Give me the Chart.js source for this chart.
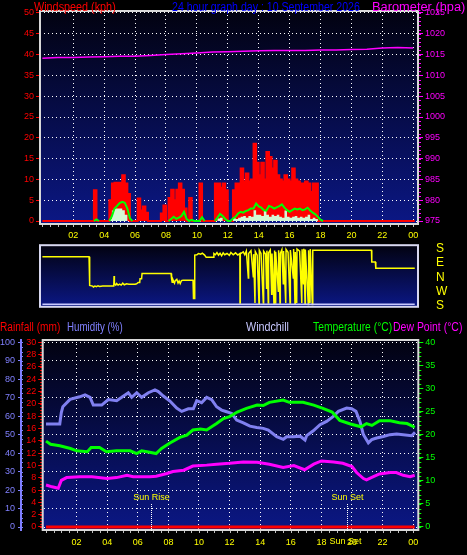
<!DOCTYPE html>
<html>
<head>
<meta charset="utf-8">
<script src="https://cdn.jsdelivr.net/npm/chart.js@4.4.1/dist/chart.umd.min.js"></script>
<style>
  html, body { margin: 0; padding: 0; background: #000; }
  #wrap { position: relative; width: 467px; height: 555px; overflow: hidden; background: #000; }
  canvas { position: absolute; left: 0; }
  .ttl { position: absolute; font: 12px 'Liberation Sans', sans-serif; line-height: 12px; white-space: nowrap; transform-origin: 0 0; }
</style>
</head>
<body>
<div id="wrap">
  <canvas id="wind" width="467" height="242" style="top:0"></canvas>
  <canvas id="dir" width="467" height="80" style="top:236px"></canvas>
  <canvas id="weather" width="467" height="225" style="top:330px"></canvas>

  <span class="ttl" data-w="82" style="left:34px;top:1px;color:#ff0000">Windspeed (kph)</span>
  <span class="ttl" data-w="188" style="left:172px;top:1px;color:#0000ff">24 hour graph day : 10 September 2026</span>
  <span class="ttl" data-w="93" style="left:372px;top:1px;color:#ff00ff">Barometer (hpa)</span>

  <span class="ttl" data-w="60" style="left:0;top:321px;color:#ff0000">Rainfall (mm)</span>
  <span class="ttl" data-w="56" style="left:67px;top:321px;color:#8080ff">Humidity (%)</span>
  <span class="ttl" data-w="43" style="left:246px;top:321px;color:#c8c8ff">Windchill</span>
  <span class="ttl" data-w="79" style="left:313px;top:321px;color:#00ff00">Temperature (°C)</span>
  <span class="ttl" data-w="69" style="left:393px;top:321px;color:#ff00ff">Dew Point (°C)</span>
</div>
<script>
// hour ticks on the time axes (24 = midnight)
const hourTicks = [2, 4, 6, 8, 10, 12, 14, 16, 18, 20, 22, 24];
const lastReading = 24.1;
const sunRise = 6.87;
const sunSet = 19.7;

// wind, 10 minute slots, one row per hour
const gustKph = [
  [0, 0, 0, 0, 0, 0],
  [0, 0, 0, 0, 0, 0],
  [0, 0, 0, 0, 0, 0],
  [0, 0, 0, 7.4, 0, 0],
  [0, 0, 0, 5, 9, 9.2],
  [9.2, 9.2, 11, 9, 6.5, 0],
  [0, 0, 5.4, 2.5, 3.5, 2],
  [0, 0, 0, 0, 0, 1.8],
  [3.7, 0, 5.5, 7.5, 5, 7.5],
  [9, 7.5, 3, 0, 5.5, 0],
  [0, 0, 9, 0, 0, 0],
  [0, 0, 9, 9, 8, 9],
  [7.4, 0, 0, 7.4, 9, 9],
  [12.6, 9.5, 11.4, 9.5, 10, 18.6],
  [14, 11, 14, 10, 16.6, 15.4],
  [12.6, 14.5, 11, 10, 9.5, 11],
  [10, 9.5, 12.6, 10, 9.5, 9],
  [9, 9.5, 9, 7, 9, 9],
  [0, 0, 0, 0, 0, 0],
  [0, 0, 0, 0, 0, 0],
  [0, 0, 0, 0, 0, 0],
  [0, 0, 0, 0, 0, 0],
  [0, 0, 0, 0, 0, 0],
  [0, 0, 0, 0, 0, 0]
];
const speedKph = [
  [0, 0, 0, 0, 0, 0],
  [0, 0, 0, 0, 0, 0],
  [0, 0, 0, 0, 0, 0],
  [0, 0, 0, 0, 0, 0],
  [0, 0, 0, 0.5, 2.5, 3],
  [3, 3, 2.6, 1.5, 0, 0],
  [0, 0, 0, 0, 0, 0],
  [0, 0, 0, 0, 0, 0],
  [0, 0, 0, 0, 0, 0],
  [0, 0, 0, 0, 0, 0],
  [0, 0, 0, 0, 0, 0],
  [0, 0, 0, 0.6, 0.8, 0],
  [0, 0, 0, 0.8, 0.5, 0.8],
  [1, 1.2, 0.8, 1.2, 1, 2.6],
  [1.5, 1.5, 1.2, 2.6, 1.5, 1],
  [1.5, 1.2, 1.5, 1, 0.8, 2.5],
  [1, 0.8, 1, 1.2, 0.8, 1],
  [0.8, 1, 1.5, 0.5, 0.8, 0.5],
  [0, 0, 0, 0, 0, 0],
  [0, 0, 0, 0, 0, 0],
  [0, 0, 0, 0, 0, 0],
  [0, 0, 0, 0, 0, 0],
  [0, 0, 0, 0, 0, 0],
  [0, 0, 0, 0, 0, 0]
];
const avgKph = [
  [null, null, null, null, null, null],
  [null, null, null, null, null, null],
  [null, null, null, null, null, null],
  [null, null, 0, 0.4, 0, null],
  [null, null, 0, 1.2, 3, 3.6],
  [4.3, 4.6, 4.4, 3, 0.6, 0],
  [null, null, null, null, null, null],
  [null, null, null, null, null, null],
  [null, 0, 0.5, 1, 0.5, 0.8],
  [1.2, 2.2, 0.5, 0, 0.3, 0],
  [0, 0, 0.9, 0, null, null],
  [null, 0, 0.8, 1.7, 1.2, 0.5],
  [0, 0, 0.6, 1, 1.8, 2.2],
  [2, 2.4, 2.6, 3, 3, 4.2],
  [3.5, 3.2, 2.6, 2.5, 3.6, 3.4],
  [3, 3.3, 3.6, 4, 3.2, 2.6],
  [2.2, 2.6, 3, 2.8, 3, 2.6],
  [2.8, 3.2, 2.5, 2, 1.6, 1],
  [0.3, 0, null, null, null, null],
  [null, null, null, null, null, null],
  [null, null, null, null, null, null],
  [null, null, null, null, null, null],
  [null, null, null, null, null, null],
  [null, null, null, null, null, null]
];

// barometer, one reading per hour 00..24
const baroHpa = [1014.1, 1014.3, 1014.3, 1014.4, 1014.5, 1014.6, 1014.6, 1014.8, 1015.0, 1015.2,
  1015.4, 1015.6, 1015.7, 1015.8, 1015.9, 1016.0, 1016.0, 1016.0, 1016.1, 1016.1,
  1016.2, 1016.3, 1016.6, 1016.7, 1016.6];

// wind direction [hour, compass degrees]
const dirReadings = [
  [0, 129], [3.02, 129], [3.04, 33], [3.08, 310], [3.25, 306], [3.3, 300], [3.4, 306], [3.5, 302],
  [3.6, 308], [3.7, 304], [3.9, 306], [4.3, 306], [4.62, 306], [4.64, 9], [4.66, 320], [4.75, 312],
  [4.8, 322], [4.9, 312], [5.0, 318], [5.1, 312], [5.2, 324], [5.3, 314], [5.45, 320], [5.6, 318],
  [6.0, 318], [6.1, 320], [6.2, 328], [6.3, 328], [6.32, 352], [6.42, 352], [6.45, 24], [8.33, 24],
  [8.36, 352], [8.4, 330], [8.45, 346], [8.55, 324], [8.6, 340], [8.7, 348], [8.78, 325], [8.85, 338],
  [8.92, 322], [9.0, 340], [9.1, 342], [9.75, 342], [9.78, 228], [9.84, 228], [9.86, 140], [10.0, 142],
  [10.1, 150], [10.25, 146], [10.35, 152], [10.5, 140], [10.6, 126], [11.05, 126], [11.1, 150],
  [11.2, 142], [11.3, 156], [11.4, 140], [11.5, 152], [11.6, 136], [11.7, 154], [11.8, 142],
  [11.95, 150], [12.1, 138], [12.2, 156], [12.35, 142], [12.5, 154], [12.65, 140], [12.78, 150],
  [12.79, 200], [12.81, 148], [13.0, 160], [13.1, 142], [13.2, 166], [13.33, 356], [13.35, 150],
  [13.5, 168], [13.65, 5], [13.67, 146], [13.76, 200], [13.78, 162], [13.9, 140], [14.02, 195],
  [14.04, 170], [14.15, 150], [14.3, 200], [14.32, 164], [14.45, 145], [14.51, 292], [14.53, 168],
  [14.62, 200], [14.64, 155], [14.75, 172], [14.84, 255], [14.86, 150], [14.99, 191], [15.03, 168],
  [15.07, 200], [15.1, 160], [15.27, 274], [15.29, 170], [15.38, 200], [15.4, 150], [15.5, 174],
  [15.59, 320], [15.61, 165], [15.75, 200], [15.77, 176], [15.9, 158], [16.03, 200], [16.05, 172],
  [16.24, 356], [16.26, 178], [16.35, 195], [16.37, 160], [16.46, 200], [16.48, 178], [16.65, 165],
  [16.79, 200], [16.81, 176], [16.9, 320], [16.92, 180], [17.0, 195], [17.02, 175], [17.21, 191],
  [17.23, 170], [17.32, 200], [17.34, 178], [17.47, 191], [17.5, 171], [21.3, 171], [21.32, 97],
  [21.55, 97], [21.58, 57], [24.1, 57]
];
const dirLetters = { 180: 'S', 90: 'E', 0: 'N', '-90': 'W', '-180': 'S' };

// [hour, value]
const humidity = [
  [0, 55.8], [0.9, 55.8], [1.0, 62], [1.1, 65.1], [1.57, 69.1], [2.2, 70.5], [2.55, 71.5], [2.88, 70.2],
  [3.09, 66], [3.64, 66], [4.07, 69], [4.62, 68.4], [4.95, 70.2], [5.38, 72.7], [5.6, 70.2], [5.93, 72.7],
  [6.25, 70.2], [6.69, 72.7], [7.12, 74.2], [7.34, 73.3], [7.67, 70.9], [8.1, 68.2], [8.54, 64.4],
  [8.87, 62.6], [9.3, 64], [9.63, 64], [9.85, 68.4], [10.17, 67.3], [10.5, 70.2], [10.83, 68.9],
  [11.15, 65.1], [11.48, 63.3], [11.81, 62.4], [12.14, 61.5], [12.46, 57.9], [12.9, 56.4], [13.33, 54.6],
  [13.77, 53.9], [14.2, 53.4], [14.53, 52.5], [15.08, 48.9], [15.51, 47.5], [15.73, 48.9], [16.17, 48.9],
  [16.6, 49.2], [16.93, 47.1], [17.04, 49.5], [17.47, 52.1], [17.91, 55.4], [18.34, 57.2], [18.78, 59.9],
  [19.11, 62.6], [19.65, 64.4], [19.98, 64], [20.26, 62.6], [20.52, 57.2], [20.74, 50.1], [21.07, 45.6],
  [21.29, 47.3], [21.61, 48.2], [22.05, 49], [22.48, 50], [22.92, 50.4], [23.9, 49.4], [24.12, 51.2]
];
const temperature = [
  [0, 18.6], [0.3, 17.9], [0.9, 17.6], [1.6, 17.0], [2.0, 16.5], [2.7, 16.3], [2.95, 17.2], [3.5, 17.2],
  [3.95, 16.3], [4.6, 16.5], [5.5, 16.5], [5.93, 15.9], [6.25, 16.5], [6.6, 16.3], [7.2, 15.9],
  [7.55, 17.0], [8.1, 18.2], [8.75, 19.4], [9.2, 19.9], [9.6, 21.0], [10.1, 21.2], [10.5, 21.0],
  [11.15, 22.4], [11.6, 23.5], [12.0, 23.9], [12.5, 24.9], [13.1, 25.7], [13.8, 26.4], [14.2, 26.3],
  [14.6, 27.0], [15.5, 27.5], [15.9, 27.0], [16.8, 27.0], [17.5, 26.4], [18.1, 25.7], [18.7, 24.9],
  [19.2, 23.1], [19.9, 22.3], [20.6, 21.7], [20.95, 22.4], [21.3, 22.0], [21.8, 23.0], [22.5, 23.0],
  [23.1, 22.6], [23.6, 22.4], [24.1, 21.6]
];
const dewPoint = [
  [0, 9.1], [0.4, 8.7], [0.8, 8.4], [1.0, 10.1], [1.35, 10.7], [2.2, 10.9], [3.0, 10.9], [4.0, 10.5],
  [4.6, 10.7], [5.3, 11.2], [5.7, 10.9], [6.8, 10.9], [7.2, 11.0], [7.9, 11.6], [8.3, 12.0], [9.0, 12.3],
  [9.6, 13.2], [10.5, 13.4], [11.15, 13.6], [12.0, 13.8], [12.9, 14.1], [13.8, 14.0], [14.6, 13.6],
  [15.5, 12.9], [16.2, 13.3], [16.9, 12.4], [17.5, 13.6], [18.0, 14.3], [18.8, 14.1], [19.4, 13.8],
  [20.0, 13.1], [20.3, 11.8], [20.75, 10.5], [20.95, 10.2], [21.4, 10.9], [21.8, 11.5], [22.5, 11.8],
  [22.9, 11.8], [23.35, 11.2], [23.8, 10.9], [24.1, 11.2]
];
const rainfall = [[0, 0], [24.1, 0]];

// ---- helpers
Chart.defaults.font.family = "'Liberation Sans', sans-serif";
Chart.defaults.animation = false;
Chart.defaults.events = [];
Chart.defaults.plugins.legend.display = false;
Chart.defaults.plugins.tooltip.enabled = false;

const slots = rows => rows.flat().map((v, i) => ({ x: i / 6, y: v }));
const pairs = list => list.map(p => ({ x: p[0], y: p[1] }));
const fixed = list => s => { s.ticks = list.map(v => ({ value: v })); };
const hh = v => String(v % 24).padStart(2, '0');
const plain = v => String(v);

function fillBack(chart) {
  const a = chart.chartArea, c = chart.ctx;
  const g = c.createLinearGradient(0, a.top, 0, a.bottom);
  g.addColorStop(0, '#020210');
  g.addColorStop(1, '#0b1785');
  c.save();
  c.fillStyle = g;
  c.fillRect(a.left, a.top, a.right - a.left, a.bottom - a.top);
  c.restore();
}

function drawBox(chart, color) {
  const a = chart.chartArea, c = chart.ctx;
  c.save();
  c.strokeStyle = color;
  c.lineWidth = 2;
  c.strokeRect(a.left, a.top, a.right - a.left, a.bottom - a.top);
  c.restore();
}

function minorTicks(chart, id, step, from, len, color) {
  const s = chart.scales[id], c = chart.ctx;
  const n0 = Math.ceil(s.min / step), n1 = Math.floor(s.max / step);
  c.save();
  c.strokeStyle = color;
  c.lineWidth = 1;
  c.beginPath();
  for (let n = n0; n <= n1; n++) {
    const p = Math.round(s.getPixelForValue(n * step)) + 0.5;
    if (s.isHorizontal()) { c.moveTo(p, from); c.lineTo(p, from + len); }
    else { c.moveTo(from, p); c.lineTo(from + len, p); }
  }
  c.stroke();
  c.restore();
}

// ---- windspeed / barometer
new Chart(document.getElementById('wind'), {
  type: 'line',
  data: {
    datasets: [{
      data: baroHpa.map((v, i) => ({ x: i, y: v })),
      yAxisID: 'yb',
      borderColor: '#ff00ff',
      borderWidth: 1.5,
      pointRadius: 0
    }, {
      data: slots(avgKph),
      yAxisID: 'y',
      borderColor: '#00ff00',
      borderWidth: 2,
      pointRadius: 0,
      spanGaps: false
    }, {
      data: slots(speedKph),
      yAxisID: 'y',
      stepped: 'after',
      fill: 'origin',
      backgroundColor: '#d4f8d4',
      borderColor: 'rgba(0,0,0,0)',
      borderWidth: 1,
      pointRadius: 0
    }, {
      data: slots(gustKph).concat([{ x: lastReading, y: 0 }]),
      yAxisID: 'y',
      stepped: 'after',
      fill: 'origin',
      backgroundColor: '#ff0000',
      borderColor: '#ff0000',
      borderWidth: 2,
      pointRadius: 0
    }]
  },
  options: {
    responsive: false,
    layout: { padding: { top: 11 } },
    scales: {
      x: {
        type: 'linear', min: -0.155, max: 24.311,
        afterBuildTicks: fixed(hourTicks),
        afterFit: s => { s.height = 18; },
        ticks: { color: '#ffff00', font: { size: 9 }, padding: 6, callback: hh, maxRotation: 0, autoSkip: false },
        grid: { color: '#ffffff', drawTicks: false },
        border: { display: false, dash: [1, 3] }
      },
      y: {
        position: 'left', min: -0.72, max: 50.48,
        afterBuildTicks: fixed([0, 5, 10, 15, 20, 25, 30, 35, 40, 45, 50]),
        afterFit: s => { s.width = 40; },
        ticks: { color: '#ff0000', font: { size: 9 }, padding: 2, autoSkip: false, callback: plain },
        grid: { color: '#ffffff', tickColor: '#ff0000', tickLength: 4 },
        border: { display: false, dash: [1, 3] }
      },
      yb: {
        position: 'right', min: 974.28, max: 1025.48,
        afterBuildTicks: fixed([975, 980, 985, 990, 995, 1000, 1005, 1010, 1015, 1020, 1025]),
        afterFit: s => { s.width = 49; },
        ticks: { color: '#ff00ff', font: { size: 9 }, padding: 2, autoSkip: false, callback: plain },
        grid: { drawOnChartArea: false, tickColor: '#ff00ff', tickLength: 5 },
        border: { display: false }
      }
    }
  },
  plugins: [{
    id: 'windDeco',
    beforeDraw: fillBack,
    afterDraw(chart) {
      const a = chart.chartArea;
      minorTicks(chart, 'yb', 1, a.right, 3, '#ff00ff');
      minorTicks(chart, 'x', 0.5, a.bottom, 3, '#c0c0c0');
      drawBox(chart, '#d8d8d8');
    }
  }]
});

// ---- wind direction
new Chart(document.getElementById('dir'), {
  type: 'line',
  data: {
    datasets: [{
      data: dirReadings.map(p => ({ x: p[0], y: p[1] > 180 ? p[1] - 360 : p[1] })),
      borderColor: '#ffff00',
      borderWidth: 1.5,
      pointRadius: 0
    }]
  },
  options: {
    responsive: false,
    layout: { padding: { top: 5, bottom: 5, left: 40 } },
    scales: {
      x: { type: 'linear', min: -0.155, max: 24.311, display: false },
      y: {
        position: 'right', min: -184, max: 202,
        afterBuildTicks: fixed([180, 90, 0, -90, -180]),
        afterFit: s => { s.width = 49; },
        ticks: { color: '#ffff00', font: { size: 12 }, padding: 2, autoSkip: false, callback: v => dirLetters[v] },
        grid: { drawOnChartArea: false, drawTicks: true, tickLength: 16, tickColor: 'rgba(0,0,0,0)' },
        border: { display: false }
      }
    }
  },
  plugins: [{
    id: 'dirDeco',
    beforeDraw: fillBack,
    afterDraw(chart) {
      const a = chart.chartArea, c = chart.ctx, x = chart.scales.x;
      c.save();
      c.strokeStyle = '#c8c8ff';
      c.lineWidth = 1.5;
      c.beginPath();
      c.moveTo(x.getPixelForValue(0), a.bottom - 2.5);
      c.lineTo(x.getPixelForValue(lastReading), a.bottom - 2.5);
      c.stroke();
      c.restore();
      drawBox(chart, '#d8d8f0');
    }
  }]
});

// ---- rain / humidity / temperature / dew point
new Chart(document.getElementById('weather'), {
  type: 'line',
  data: {
    datasets: [{
      data: pairs(dewPoint), yAxisID: 'yt',
      borderColor: '#ff00ff', borderWidth: 3, pointRadius: 0
    }, {
      data: pairs(temperature), yAxisID: 'yt',
      borderColor: '#00ff00', borderWidth: 3, pointRadius: 0
    }, {
      data: pairs(humidity), yAxisID: 'yh',
      borderColor: '#8080f0', borderWidth: 3, pointRadius: 0
    }, {
      data: pairs(rainfall), yAxisID: 'yr',
      borderColor: '#ff0000', borderWidth: 3, pointRadius: 0
    }]
  },
  options: {
    responsive: false,
    layout: { padding: { top: 10 } },
    scales: {
      x: {
        type: 'linear', min: -0.216, max: 24.334,
        afterBuildTicks: fixed(hourTicks),
        afterFit: s => { s.height = 25; },
        ticks: { color: '#ffff00', font: { size: 9 }, padding: 7, callback: hh, maxRotation: 0, autoSkip: false },
        grid: { color: '#ffffff', drawTicks: false },
        border: { display: false, dash: [1, 3] }
      },
      yh: {
        position: 'left', weight: 2, min: -1.62, max: 101.25,
        afterBuildTicks: fixed([0, 10, 20, 30, 40, 50, 60, 70, 80, 90, 100]),
        afterFit: s => { s.width = 21; },
        ticks: { color: '#8080ff', font: { size: 9 }, padding: 3, autoSkip: false, callback: plain },
        grid: { color: '#ffffff', tickColor: '#8080ff', tickLength: 3 },
        border: { display: true, color: '#8080ff', width: 2, dash: [1, 3] }
      },
      yr: {
        position: 'left', weight: 1, min: -0.49, max: 30.37,
        afterBuildTicks: fixed([0, 2, 4, 6, 8, 10, 12, 14, 16, 18, 20, 22, 24, 26, 28, 30]),
        afterFit: s => { s.width = 21.7; },
        ticks: { color: '#ff0000', font: { size: 9 }, padding: 2, autoSkip: false, callback: plain },
        grid: { drawOnChartArea: false, tickColor: '#ff0000', tickLength: 4.5 },
        border: { display: false }
      },
      yt: {
        position: 'right', min: -0.65, max: 40.5,
        afterBuildTicks: fixed([0, 5, 10, 15, 20, 25, 30, 35, 40]),
        afterFit: s => { s.width = 48.7; },
        ticks: { color: '#00ff00', font: { size: 9 }, padding: 2, autoSkip: false, callback: plain },
        grid: { drawOnChartArea: false, tickColor: '#00ff00', tickLength: 5 },
        border: { display: false }
      }
    }
  },
  plugins: [{
    id: 'weatherDeco',
    beforeDraw: fillBack,
    afterDraw(chart) {
      const a = chart.chartArea, c = chart.ctx, x = chart.scales.x;
      minorTicks(chart, 'yt', 1, a.right, 3, '#00ff00');
      minorTicks(chart, 'yh', 2.5, 21, 2, '#8080ff');
      minorTicks(chart, 'yr', 0.5, a.left - 2.5, 2, '#ff0000');
      minorTicks(chart, 'x', 0.5, a.bottom, 3, '#c0c0c0');
      drawBox(chart, '#d8d8d8');
      c.save();
      c.font = "9px 'Liberation Sans', sans-serif";
      c.fillStyle = '#ffff00';
      c.textAlign = 'center';
      c.textBaseline = 'middle';
      [[sunRise, 'Sun Rise'], [sunSet, 'Sun Set']].forEach(([t, label]) => {
        const px = Math.round(x.getPixelForValue(t)) + 0.5;
        c.fillText(label, px, a.bottom - 32);
        c.strokeStyle = '#ffffff';
        c.lineWidth = 1;
        c.setLineDash([1, 1]);
        c.beginPath();
        c.moveTo(px, a.bottom - 26);
        c.lineTo(px, a.bottom + 2);
        c.stroke();
      });
      c.fillText('Sun Set', x.getPixelForValue(sunSet) - 2, a.bottom + 11.5);
      c.restore();
    }
  }]
});

document.querySelectorAll('.ttl').forEach(el => {
  el.style.transform = 'scaleX(' + (+el.dataset.w / el.offsetWidth) + ')';
});
</script>
</body>
</html>
